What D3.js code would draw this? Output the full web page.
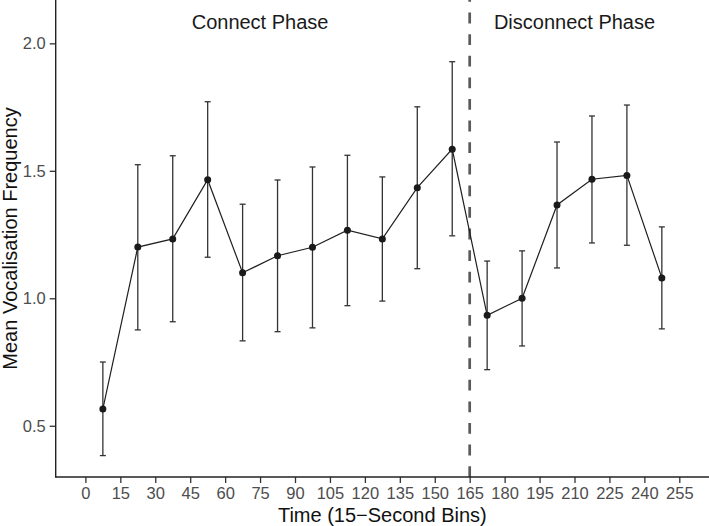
<!DOCTYPE html>
<html>
<head>
<meta charset="utf-8">
<script src="https://cdn.jsdelivr.net/npm/d3@7"></script>
<style>
  html, body { margin: 0; padding: 0; background: #ffffff; }
  svg { display: block; }
  text { font-family: "Liberation Sans", Arial, Helvetica, sans-serif; }
</style>
</head>
<body>
<svg id="chart" width="709" height="526"></svg>
<script>
// ---- data ----
const timeBins = [7.5, 22.5, 37.5, 52.5, 67.5, 82.5, 97.5, 112.5, 127.5, 142.5, 157.5, 172.5, 187.5, 202.5, 217.5, 232.5, 247.5];
const meanFreq = [0.566, 1.201, 1.233, 1.465, 1.100, 1.167, 1.200, 1.267, 1.233, 1.434, 1.585, 0.933, 1.000, 1.366, 1.467, 1.482, 1.080];
const upperCI  = [0.750, 1.524, 1.559, 1.771, 1.369, 1.464, 1.515, 1.561, 1.476, 1.751, 1.928, 1.146, 1.186, 1.613, 1.715, 1.758, 1.280];
const lowerCI  = [0.383, 0.876, 0.908, 1.161, 0.833, 0.869, 0.884, 0.971, 0.989, 1.116, 1.245, 0.720, 0.813, 1.119, 1.217, 1.208, 0.880];
const xTicks = [0, 15, 30, 45, 60, 75, 90, 105, 120, 135, 150, 165, 180, 195, 210, 225, 240, 255];
const yTicks = [0.5, 1.0, 1.5, 2.0];
const phaseBoundary = 165;
const phaseLabels = ["Connect Phase", "Disconnect Phase"];
const phaseLabelX = [75, 210];
const phaseLabelY = 2.085;
const xTitle = "Time (15\u2212Second Bins)";
const yTitle = "Mean Vocalisation Frequency";

const data = timeBins.map((t, i) => ({ t, m: meanFreq[i], lo: lowerCI[i], hi: upperCI[i] }));

// ---- layout ----
const svg = d3.select("#chart");
const pLeft = 55.7, pRight = 709, pTop = 0, pBottom = 477;

const x = d3.scaleLinear().domain([-12.75, 267.75]).range([pLeft, pRight]);
const y = d3.scaleLinear().domain([0.299, 2.170]).range([pBottom, pTop]);

// dashed phase boundary (drawn bottom to top)
svg.append("line")
  .attr("x1", x(phaseBoundary)).attr("x2", x(phaseBoundary))
  .attr("y1", pBottom).attr("y2", pTop)
  .attr("stroke", "#5a5a5a")
  .attr("stroke-width", 2.7)
  .attr("stroke-dasharray", "10.8,10.8");

// error bars
const eb = svg.append("g").attr("stroke", "#333333").attr("stroke-width", 1.3).attr("fill", "none");
data.forEach(d => {
  eb.append("line").attr("x1", x(d.t)).attr("x2", x(d.t)).attr("y1", y(d.lo)).attr("y2", y(d.hi));
  eb.append("line").attr("x1", x(d.t) - 3).attr("x2", x(d.t) + 3).attr("y1", y(d.lo)).attr("y2", y(d.lo));
  eb.append("line").attr("x1", x(d.t) - 3).attr("x2", x(d.t) + 3).attr("y1", y(d.hi)).attr("y2", y(d.hi));
});

// line
svg.append("path")
  .datum(data)
  .attr("fill", "none")
  .attr("stroke", "#1f1f1f")
  .attr("stroke-width", 1.2)
  .attr("d", d3.line().x(d => x(d.t)).y(d => y(d.m)));

// points
svg.append("g").selectAll("circle").data(data).join("circle")
  .attr("cx", d => x(d.t)).attr("cy", d => y(d.m)).attr("r", 3.5)
  .attr("fill", "#1a1a1a");

// phase labels
phaseLabels.forEach((lab, i) => {
  svg.append("text")
    .attr("x", x(phaseLabelX[i]))
    .attr("y", y(phaseLabelY))
    .attr("dy", "0.35em")
    .attr("text-anchor", "middle")
    .attr("font-size", 20)
    .attr("fill", "#1a1a1a")
    .text(lab);
});

// axes
const xAxis = svg.append("g").attr("transform", `translate(0,${pBottom})`)
  .call(d3.axisBottom(x).tickValues(xTicks).tickFormat(d3.format("d")).tickSize(6).tickPadding(4.5));
const yAxis = svg.append("g").attr("transform", `translate(${pLeft},0)`)
  .call(d3.axisLeft(y).tickValues(yTicks).tickFormat(d3.format(".1f")).tickSize(6).tickPadding(4));

[xAxis, yAxis].forEach(a => {
  a.select(".domain").remove();
  a.selectAll(".tick line").attr("stroke", "#333333").attr("stroke-width", 1.3);
  a.selectAll(".tick text").attr("fill", "#4d4d4d").attr("font-size", 16.5)
    .attr("font-family", "Liberation Sans, Arial, sans-serif");
});

// axis lines
svg.append("line").attr("x1", pLeft).attr("x2", pRight).attr("y1", pBottom).attr("y2", pBottom)
  .attr("stroke", "#222").attr("stroke-width", 1.4);
svg.append("line").attr("x1", pLeft).attr("x2", pLeft).attr("y1", pTop).attr("y2", pBottom + 0.7)
  .attr("stroke", "#222").attr("stroke-width", 1.4);

// axis titles
svg.append("text")
  .attr("x", (pLeft + pRight) / 2).attr("y", 521.5)
  .attr("text-anchor", "middle").attr("font-size", 20).attr("fill", "#111")
  .text(xTitle);
svg.append("text")
  .attr("transform", `translate(16.5,${(pTop + pBottom) / 2}) rotate(-90)`)
  .attr("text-anchor", "middle").attr("font-size", 20).attr("fill", "#111")
  .text(yTitle);
</script>
</body>
</html>
